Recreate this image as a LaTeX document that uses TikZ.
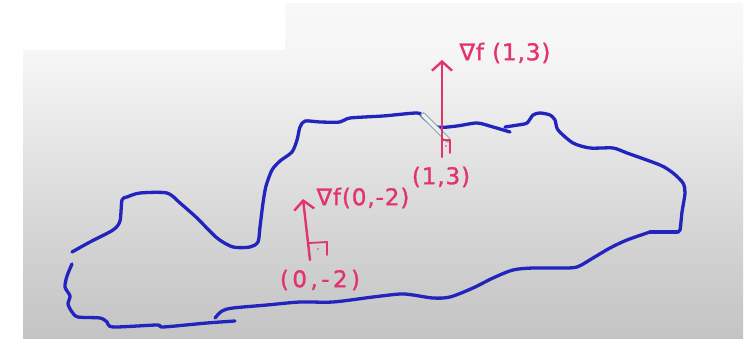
\documentclass[tikz,border=0pt]{standalone}
\usepackage{fontspec}
\usetikzlibrary{arrows.meta}
\newfontfamily\hand[FakeBold=1.2]{DejaVu Sans}
\definecolor{inkblue}{HTML}{2323BE}
\definecolor{inkpink}{HTML}{E2336C}
\definecolor{gA}{HTML}{C4C4C4}
\definecolor{gB}{HTML}{CECECE}
\definecolor{gC}{HTML}{E0E0E0}
\definecolor{gD}{HTML}{EFEFEF}
\definecolor{gE}{HTML}{F6F6F6}
\definecolor{gF}{HTML}{F8F8F8}
\pgfdeclareverticalshading{bgshade}{100bp}{color(0bp)=(gA); color(25bp)=(gA); color(35bp)=(gB); color(50bp)=(gC); color(62bp)=(gD); color(68bp)=(gE); color(75bp)=(gF); color(100bp)=(gF)}
\tikzset{
  blueink/.style={draw=inkblue, line width=3.3pt, line cap=round, line join=round},
  pinkline/.style={draw=inkpink, line width=2.4pt, line cap=round, line join=round},
  pinkarrow/.style={pinkline, -{Straight Barb[length=9pt,width=20pt,line width=2.4pt]}},
  lbl/.style={text=inkpink, font=\hand\fontsize{23}{23}\selectfont\addfontfeature{LetterSpace=4}, inner sep=0pt},
  tangentmark/.style={draw=gray!70!teal!70, double=white!88!gray, double distance=3.4pt, line width=1pt, line cap=round}
}
\begin{document}
\begin{tikzpicture}[x=1pt,y=-1pt]
\useasboundingbox (0,0) rectangle (753,339);
\fill[white] (0,0) rectangle (753,339);
\shade[shading=bgshade] (23,4) rectangle (743,339);
\fill[white] (23,0) rectangle (285,50);
% blue blob
\draw[blueink] plot[smooth, tension=0.45] coordinates {
 (72,252) (90,242) (113,230) (120,221) (122,200) (127,197) (140,193) (167,193)
 (180,203) (197,218) (217,238) (233,247) (250,247) (258,242) (260,227) (263,203)
 (266,186) (272,170) (280,161) (292,152) (297,140) (300,127) (305,121) (320,122)
 (340,122) (350,118) (383,116) (417,113) (423,117) (437,127) (457,126) (477,123)
 (493,127) (510,132)};
\draw[blueink] plot[smooth, tension=0.45] coordinates {
 (505,127) (518,125) (527,123) (533,115) (540,113) (550,115) (555,120) (558,130)
 (573,143) (590,148) (613,148) (627,153) (660,165) (673,173) (683,183) (685,193)
 (682,212) (680,230) (677,232)};
\draw[blueink] (677,232) -- (650,232);
\draw[blueink] plot[smooth, tension=0.5] coordinates {
 (650,232) (627,240) (610,248) (593,258) (577,267) (560,268) (533,268) (513,270)
 (493,278) (473,288) (450,297) (433,298) (413,295) (400,294) (373,297) (333,302)
 (300,302) (267,305) (233,308) (222,311) (215,318)};
\draw[blueink] plot[smooth, tension=0.45] coordinates {
 (72,264) (67,276) (65,287) (70,296) (68,304) (72,312) (78,317) (100,318)
 (107,322) (113,327) (157,325) (163,327) (207,323) (235,321)};
% tangent highlight at (1,3)
\coordinate (tanA) at (423,115);
\coordinate (tanB) at (448,140);
\draw[tangentmark] (tanA) -- (tanB);
% gradient arrow at (1,3)
\coordinate (p13) at (442,157);
\coordinate (g13) at (442,60);
\draw[pinkarrow] (p13) -- (g13);
\draw[pinkline, line width=1.8pt] (442,140) -- (450,140) -- (450,153);
\fill[inkpink] (446,146) circle (0.9);
\node[lbl] (lg13) at (505,53) {∇f (1,3)};
\node[lbl] (lp13) at (441,177) {(1,3)};
% gradient arrow at (0,-2)
\coordinate (p02) at (310,260);
\coordinate (g02) at (303,199);
\draw[pinkarrow] (p02) -- (g02);
\draw[pinkline, line width=1.8pt] (309,243) -- (327,242) -- (327,255);
\fill[inkpink] (318,249) circle (0.9);
\node[lbl] (lg02) at (363,198) {∇f(0,-2)};
\node[lbl, font=\hand\fontsize{23}{23}\selectfont\addfontfeature{LetterSpace=15}] (lp02) at (320,280) {(0,-2)};
\end{tikzpicture}
\end{document}
